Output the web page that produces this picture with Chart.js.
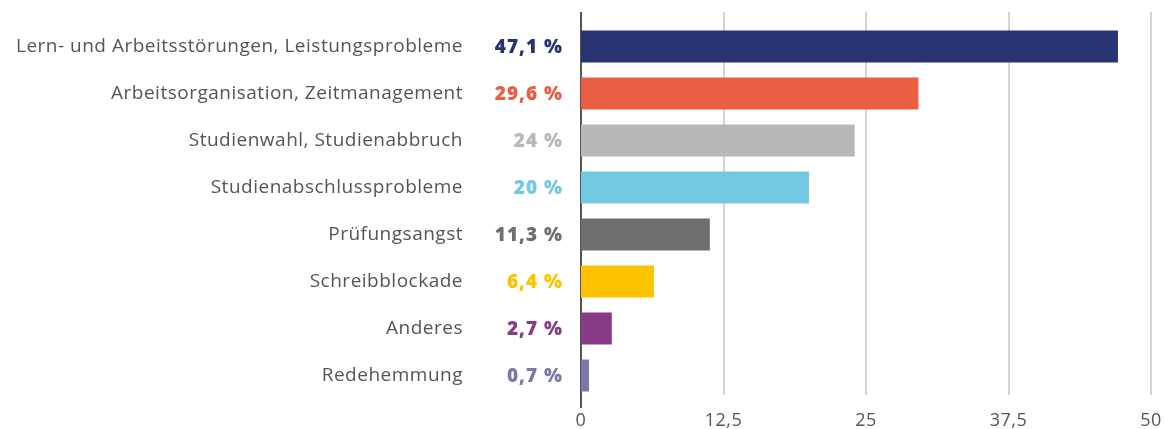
<!DOCTYPE html>
<html>
<head>
<meta charset="utf-8">
<script src="https://cdn.jsdelivr.net/npm/chart.js@4/dist/chart.umd.min.js"></script>
<style>
html,body{margin:0;padding:0;background:#fff;}
#wrap{width:1164px;height:429px;position:relative;}
</style>
</head>
<body>
<div id="wrap"><canvas id="c"></canvas></div>
<script>
const categories = [
  "Lern- und Arbeitsstörungen, Leistungsprobleme",
  "Arbeitsorganisation, Zeitmanagement",
  "Studienwahl, Studienabbruch",
  "Studienabschlussprobleme",
  "Prüfungsangst",
  "Schreibblockade",
  "Anderes",
  "Redehemmung"
];
const values = [47.1, 29.6, 24, 20, 11.3, 6.4, 2.7, 0.7];
const valueLabels = ["47,1 %", "29,6 %", "24 %", "20 %", "11,3 %", "6,4 %", "2,7 %", "0,7 %"];
const barColors = ["#283371", "#EA5F43", "#B8B8B8", "#74C9E2", "#6F6F6F", "#FDC300", "#873B85", "#7A78AB"];
const xTicks = [0, 12.5, 25, 37.5, 50];

const FONT = "'Open Sans', Lato, sans-serif";

const customDraw = {
  id: 'customDraw',
  beforeDraw(chart) {
    chart.ctx.letterSpacing = '0.5px';
  },
  beforeDatasetsDraw(chart) {
    const ctx = chart.ctx;
    const xs = chart.scales.x;
    ctx.save();
    xTicks.forEach(v => {
      if (v === 0) return;
      const px = Math.round(xs.getPixelForValue(v));
      ctx.strokeStyle = '#d3d3d3';
      ctx.lineWidth = 2;
      ctx.beginPath();
      ctx.moveTo(px, 12);
      ctx.lineTo(px, 395);
      ctx.stroke();
    });
    const z = Math.round(xs.getPixelForValue(0));
    ctx.strokeStyle = '#555555';
    ctx.lineWidth = 2;
    ctx.beginPath();
    ctx.moveTo(z, 12);
    ctx.lineTo(z, 408);
    ctx.stroke();
    ctx.restore();
  },
  afterDatasetsDraw(chart) {
    const ctx = chart.ctx;
    const ys = chart.scales.y;
    ctx.save();
    ctx.font = "800 19px " + FONT;
    ctx.letterSpacing = '1px';
    ctx.textAlign = 'right';
    ctx.textBaseline = 'middle';
    valueLabels.forEach((t, i) => {
      ctx.fillStyle = barColors[i];
      ctx.fillText(t, 563, ys.getPixelForValue(i) + 1);
    });
    ctx.restore();
  },
  afterDraw(chart) {
    chart.ctx.letterSpacing = '0px';
  }
};

new Chart(document.getElementById('c'), {
  type: 'bar',
  data: {
    labels: categories,
    datasets: [{
      data: values,
      backgroundColor: barColors,
      borderWidth: 0,
      barPercentage: 0.68,
      categoryPercentage: 1.0
    }]
  },
  options: {
    indexAxis: 'y',
    responsive: true,
    maintainAspectRatio: false,
    animation: false,
    layout: { padding: { top: 23, right: 13, bottom: 0, left: 0 } },
    plugins: { legend: { display: false }, tooltip: { enabled: false } },
    scales: {
      x: {
        min: 0, max: 50,
        afterBuildTicks(scale) { scale.ticks = xTicks.map(v => ({ value: v })); },
        afterFit(scale) { scale.height = 30; scale.paddingLeft = 0; scale.paddingRight = 0; },
        grid: { display: false },
        border: { display: false },
        ticks: {
          color: '#555555',
          font: { family: FONT, size: 18 },
          padding: 3,
          maxRotation: 0,
          autoSkip: false,
          callback: v => String(v).replace('.', ',')
        }
      },
      y: {
        afterFit(scale) { scale.width = 581; scale.paddingTop = 0; scale.paddingBottom = 0; },
        grid: { display: false, drawTicks: false },
        border: { display: false },
        ticks: {
          color: '#555555',
          font: { family: FONT, size: 19 },
          padding: 118,
          autoSkip: false
        }
      }
    }
  },
  plugins: [customDraw]
});
</script>
</body>
</html>
